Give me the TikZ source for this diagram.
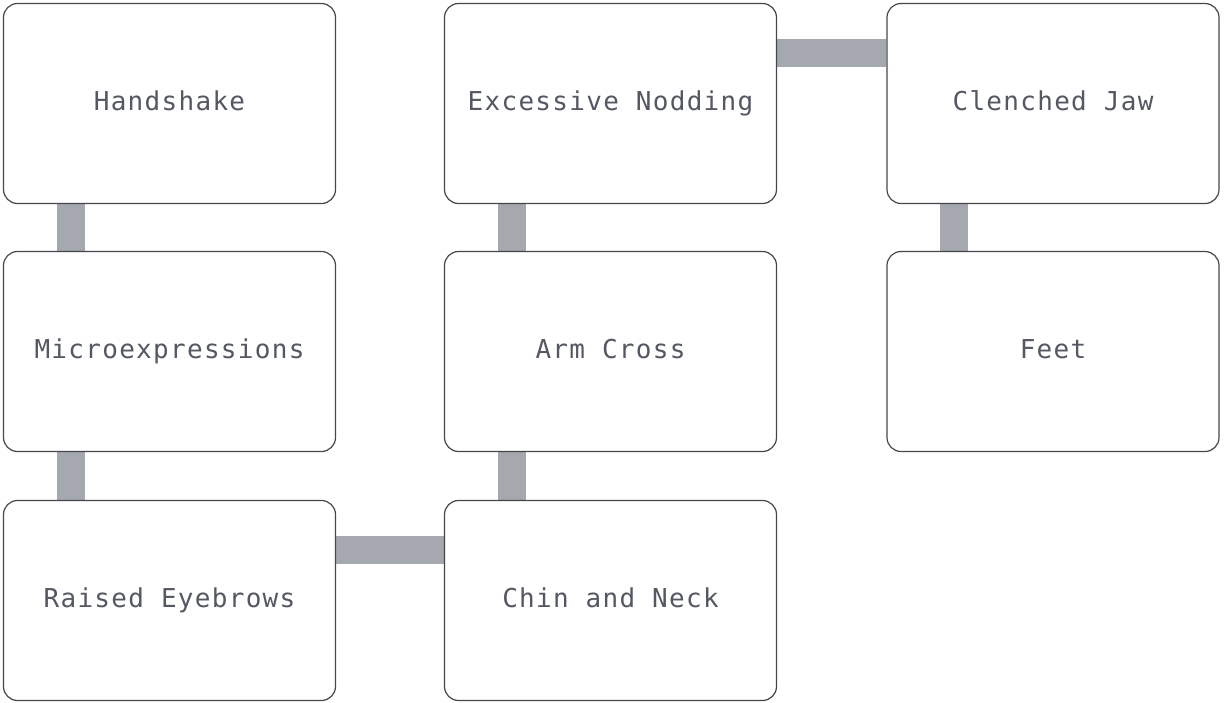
\documentclass[tikz,border=0pt]{standalone}
\usepackage{fontspec}
\newfontfamily\cuefont{DejaVu Sans Mono}[LetterSpace=5]
\usetikzlibrary{backgrounds}
\definecolor{cueline}{HTML}{45474B}
\definecolor{cuetext}{HTML}{545862}
\definecolor{cuebar}{HTML}{A5A8AF}

\begin{document}
\begin{tikzpicture}[x=1pt, y=1pt,
    cue/.style={rectangle, rounded corners=14pt, draw=cueline, line width=1.2pt, fill=white,
        minimum width=332pt, minimum height=200pt, inner sep=0pt, text=cuetext,
        text height=19pt, text depth=6pt,
        font=\cuefont\fontsize{26}{30}\selectfont},
    bar/.style={draw=cuebar, line width=28pt}]
    \useasboundingbox (0,0) rectangle (1225,-702);
    \node[cue] (hand)   at (169.5,-103.5) {Handshake};
    \node[cue] (micro)  at (169.5,-351.5) {Microexpressions};
    \node[cue] (brows)  at (169.5,-600.5) {Raised Eyebrows};
    \node[cue] (nod)    at (610.5,-103.5) {Excessive Nodding};
    \node[cue] (arm)    at (610.5,-351.5) {Arm Cross};
    \node[cue] (chin)   at (610.5,-600.5) {Chin and Neck};
    \node[cue] (jaw)    at (1053,-103.5) {Clenched Jaw};
    \node[cue] (feet)   at (1053,-351.5) {Feet};
    \begin{pgfonlayer}{background}
    \draw[bar] ([xshift=68pt]hand.south west) -- ([xshift=68pt]micro.north west);
    \draw[bar] ([xshift=68pt]micro.south west) -- ([xshift=68pt]brows.north west);
    \draw[bar] ([yshift=-50pt]brows.north east) -- ([yshift=-50pt]chin.north west);
    \draw[bar] ([xshift=68pt]chin.north west) -- ([xshift=68pt]arm.south west);
    \draw[bar] ([xshift=68pt]arm.north west) -- ([xshift=68pt]nod.south west);
    \draw[bar] ([yshift=-50pt]nod.north east) -- ([yshift=-50pt]jaw.north west);
    \draw[bar] ([xshift=68pt]jaw.south west) -- ([xshift=68pt]feet.north west);
    \end{pgfonlayer}
\end{tikzpicture}
\end{document}
